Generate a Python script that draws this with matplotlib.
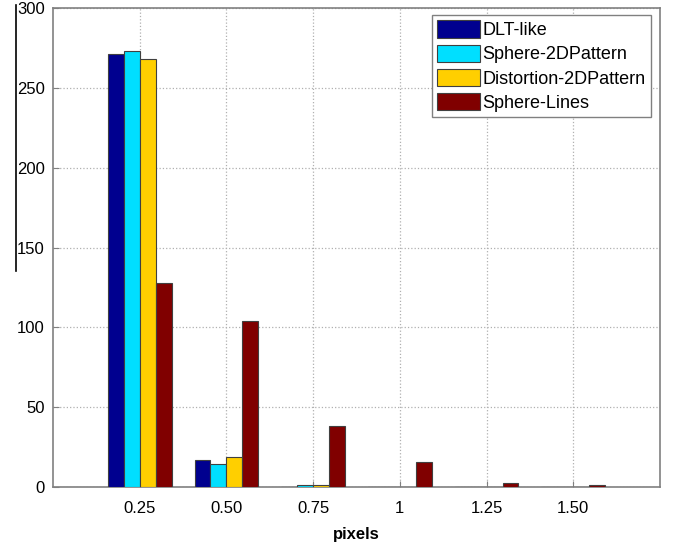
import numpy as np
import matplotlib
matplotlib.use("Agg")
import matplotlib.pyplot as plt
from matplotlib.lines import Line2D

plt.rcParams['font.family'] = ['Liberation Sans', 'DejaVu Sans']

categories = [0.25, 0.50, 0.75, 1.00, 1.25, 1.50]
tick_labels = ['0.25', '0.50', '0.75', '1', '1.25', '1.50']
dlt_like = [271, 17, 0, 0, 0, 0]
sphere_2d = [273, 14.5, 1, 0, 0, 0]
distortion_2d = [268, 19, 1, 0, 0, 0]
sphere_lines = [128, 104, 38, 15.5, 2.5, 1.5]

series = [
    ('DLT-like', dlt_like, '#00008f'),
    ('Sphere-2DPattern', sphere_2d, '#00dfff'),
    ('Distortion-2DPattern', distortion_2d, '#ffcf00'),
    ('Sphere-Lines', sphere_lines, '#800000'),
]

fig = plt.figure(figsize=(6.73, 5.42), dpi=100)
ax = fig.add_axes([53/673, 1-487/542, (660-53)/673, (487-8)/542])

x = np.array(categories)
w = 0.046
for i, (name, vals, col) in enumerate(series):
    ax.bar(x + (i - 1.5) * w, vals, width=w, color=col, edgecolor='#404040',
           linewidth=0.8, label=name, zorder=3)

ax.set_xlim(0, 1.75)
ax.set_ylim(0, 300)
ax.set_xticks(categories)
ax.set_xticklabels(tick_labels)
ax.set_yticks(np.arange(0, 301, 50))
ax.tick_params(axis='both', direction='in', length=4, color='#808080', labelsize=12)
ax.tick_params(axis='x', pad=10)
ax.tick_params(axis='y', pad=6)
ax.grid(True, linestyle=':', color='#b0b0b0', linewidth=0.9, zorder=0)
for s in ax.spines.values():
    s.set_color('#808080')
    s.set_linewidth(1.2)
ax.set_xlabel('pixels', fontsize=12, fontweight='bold', labelpad=8)

leg = ax.legend(loc='upper right', bbox_to_anchor=(651/673, 1-15/542), bbox_transform=fig.transFigure,
                fontsize=13, fancybox=False, framealpha=1, edgecolor='#808080',
                handlelength=2.35, handleheight=1.1, handletextpad=0.15,
                labelspacing=0.3, borderpad=0.3, borderaxespad=0)
leg.get_frame().set_linewidth(1.0)

fig.add_artist(Line2D([16/673, 16/673], [1-5/542, 1-271/542], color='black', linewidth=1.2,
                      transform=fig.transFigure))

fig.savefig('out.png', dpi=100)
